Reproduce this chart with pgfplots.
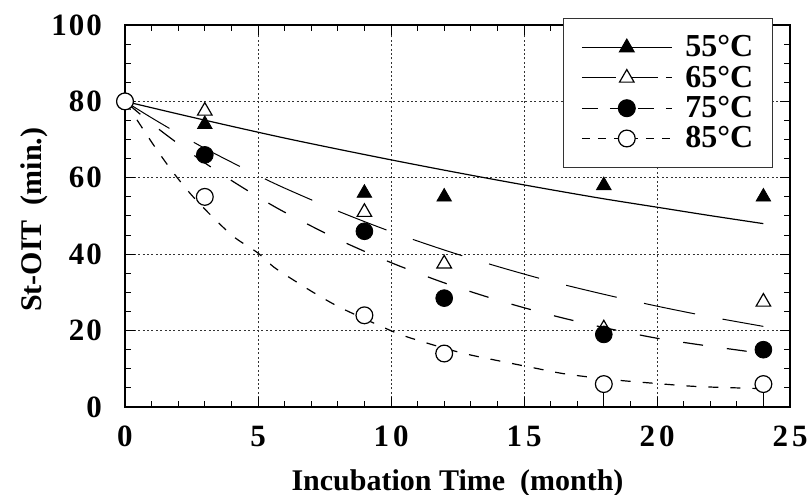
\documentclass[border=0pt]{standalone}
\usepackage{fontspec}
\setmainfont{Liberation Serif}
\usepackage{pgfplots}
\pgfplotsset{compat=1.18}
\usepackage{pgfplotstable}

% measured points
\pgfplotstableread{
t y
0 80
3 74
9 56
12 55
18 58
24 55
}\dataA
\pgfplotstableread{
t y
0 80
3 77.5
9 51
12 37.5
18 20.5
24 27.5
}\dataB
\pgfplotstableread{
t y
0 80
3 66
9 46
12 28.5
18 19
24 15
}\dataC
\pgfplotstableread{
t y e
0 80 0
3 55 0
9 24 0
12 14 0
18 6 5.6
24 6 5.6
}\dataD
% fitted curves
\pgfplotstableread{
t y
0 80
2 76.7
4 73.5
6 70.4
8 67.5
10 64.7
12 62.0
14 59.4
16 56.9
18 54.5
20 52.3
22 50.1
24 48.0
}\fitA
\pgfplotstableread{
t y
0 80
1 75.7
2 71.6
3 67.7
4 64.1
5 60.6
6 57.3
8 51.3
10 45.9
12 41.1
14 36.8
16 32.9
18 29.5
20 26.4
22 23.6
24 21.1
}\fitB
\pgfplotstableread{
t y
0 80
1 74.2
2 68.9
3 63.9
4 59.3
5 55.0
6 51.0
8 43.9
10 37.8
12 32.5
14 28.0
16 24.1
18 20.8
20 18.0
22 15.9
24 14.0
}\fitC
\pgfplotstableread{
t y
0 80
0.7 72.5
1.2 67.3
1.8 61.5
2.5 55.5
3.3 49.7
4.1 44.5
5 40.3
5.6 36.6
6.5 32.5
7.2 29.5
8.1 26.0
9.6 21.2
10.5 18.6
12 15.4
13 13.6
14.4 11.6
15.4 10.2
16.6 8.6
18.4 7.1
19.9 6.2
21.4 5.4
23 5.0
24 4.8
}\fitD

\begin{document}
\begin{tikzpicture}
\begin{axis}[
  name=ax,
  scale only axis, width=332.5pt, height=191pt,
  xmin=0, xmax=25, ymin=0, ymax=100,
  xtick={0,5,10,15,20,25},
  xticklabels={0,5,1\kern2pt0,1\kern2pt5,2\kern2pt0,2\kern2pt5},
  ytick={0,20,40,60,80,100},
  yticklabels={0,2\kern1pt0,4\kern1pt0,6\kern1pt0,8\kern1pt0,1\kern1pt0\kern1pt0},
  minor x tick num=4, minor y tick num=3,
  tick align=inside, major tick length=5pt, minor tick length=3pt,
  tick style={black, line width=0.5pt},
  axis line style={line width=0.9pt},
  grid=major,
  grid style={black!80, line width=0.4pt, dash pattern=on 1pt off 1.2pt},
  /pgf/number format/assume math mode=true,
  tick label style={font=\fontsize{15.5}{16}\selectfont\bfseries},
  xticklabel style={yshift=-6pt},
  yticklabel style={xshift=-8pt},
  xlabel={Incubation Time\ \ (month)},
  ylabel={St-OIT\ \ (min.)},
  every axis x label/.style={at={(axis description cs:0.5,-0.2)},anchor=center,font=\fontsize{15}{16}\selectfont\bfseries},
  every axis y label/.style={at={(axis description cs:-0.137,0.49)},anchor=center,rotate=90,font=\fontsize{15}{16}\selectfont\bfseries},
  legend style={at={(axis description cs:0.974,1.018)}, anchor=north east,
    font=\fontsize{16}{14}\selectfont\bfseries, draw=black!80,
    inner xsep=9pt, inner ysep=8pt, row sep=2pt,
    nodes={inner sep=0.5pt}, cells={anchor=west}},
  legend cell align=left,
]
% curves
\addplot[black, line width=0.6pt, smooth, no marks, forget plot] table[x=t,y=y]{\fitA};
\addplot[black, line width=0.5pt, smooth, no marks, dash pattern=on 26pt off 14pt, forget plot] table[x=t,y=y]{\fitB};
\addplot[black, line width=0.6pt, smooth, no marks, dash pattern=on 10pt off 12pt, forget plot] table[x=t,y=y]{\fitC};
\addplot[black, line width=0.6pt, smooth, no marks, dash pattern=on 5pt off 6pt, forget plot] table[x=t,y=y]{\fitD};
% error bars (drawn below the open circles)
\addplot[only marks, mark=none, forget plot,
  error bars/.cd, y dir=minus, y explicit, error mark=none,
  error bar style={black, solid, line width=0.6pt}] table[x=t,y=y,y error=e]{\dataD};
% points
\addplot[only marks, mark=triangle*, mark size=4.2pt, mark options={solid, fill=black}, forget plot] table[x=t,y=y]{\dataA};
\addplot[only marks, mark=triangle*, mark size=4.2pt, mark options={solid, fill=white, draw=black, line width=0.6pt}, forget plot] table[x=t,y=y]{\dataB};
\addplot[only marks, mark=*, mark size=4.2pt, mark options={solid, fill=black}, forget plot] table[x=t,y=y]{\dataC};
\addplot[only marks, mark=*, mark size=4.2pt, mark options={solid, fill=white, draw=black, line width=0.6pt}, forget plot] table[x=t,y=y]{\dataD};
% legend
\addlegendimage{black, line width=0.6pt, mark=triangle*, mark size=4.2pt, mark options={solid, fill=black},
  legend image code/.code={\draw[mark repeat=2,mark phase=2] plot coordinates {(0pt,0pt) (22.5pt,0pt) (45pt,0pt)}; \path (51pt,0pt);}}
\addlegendentry{55°C}
\addlegendimage{black, line width=0.5pt, dash pattern=on 17pt off 4pt, mark=triangle*, mark size=4.2pt, mark options={solid, fill=white, line width=0.6pt},
  legend image code/.code={\draw[mark repeat=2,mark phase=2] plot coordinates {(0pt,0pt) (22.5pt,0pt) (45pt,0pt)}; \path (51pt,0pt);}}
\addlegendentry{65°C}
\addlegendimage{black, line width=0.6pt, dash pattern=on 8pt off 6pt, mark=*, mark size=4.2pt, mark options={solid, fill=black},
  legend image code/.code={\draw[mark repeat=2,mark phase=2] plot coordinates {(0pt,0pt) (22.5pt,0pt) (45pt,0pt)}; \path (51pt,0pt);}}
\addlegendentry{75°C}
\addlegendimage{black, line width=0.6pt, dash pattern=on 4pt off 4pt, mark=*, mark size=4.2pt, mark options={solid, fill=white, line width=0.6pt},
  legend image code/.code={\draw[mark repeat=2,mark phase=2] plot coordinates {(0pt,0pt) (22.5pt,0pt) (45pt,0pt)}; \path (51pt,0pt);}}
\addlegendentry{85°C}
\end{axis}
\pgfresetboundingbox
\path[use as bounding box] ([shift={(-62.5pt,-44pt)}]ax.south west) rectangle ([shift={(11pt,12.5pt)}]ax.north east);
\end{tikzpicture}
\end{document}
